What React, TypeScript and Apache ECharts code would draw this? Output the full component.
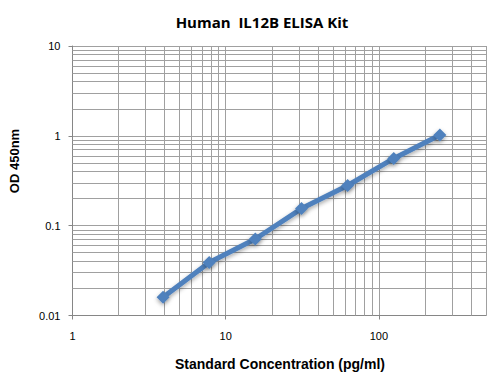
import React, { useEffect, useRef } from "react";
import * as echarts from "echarts";

const concentrations = [3.9, 7.8, 15.6, 31.25, 62.5, 125, 250];
const odValues = [0.016, 0.039, 0.071, 0.155, 0.28, 0.56, 1.02];
const xMinorGrid = [2, 3, 4, 5, 6, 7, 8, 9, 20, 30, 40, 50, 60, 70, 80, 90, 200, 300, 400, 500];
const yMinorGrid = [0.02, 0.03, 0.04, 0.05, 0.06, 0.07, 0.08, 0.09, 0.2, 0.3, 0.4, 0.5, 0.6, 0.7, 0.8, 0.9, 2, 3, 4, 5, 6, 7, 8, 9];

const FONT = "Liberation Sans";
const GRID = "#a0a0a0";

export default function App() {
  const ref = useRef<HTMLDivElement>(null);
  useEffect(() => {
    const chart = echarts.init(ref.current!, null, { renderer: "svg" });
    const pts = concentrations.map((c, i) => [c, odValues[i]]);
    chart.setOption({
      animation: false,
      backgroundColor: "#ffffff",
      title: {
        text: "Human  IL12B ELISA Kit",
        left: 257,
        top: 9,
        textAlign: "center",
        textStyle: { fontFamily: "Open Sans", fontWeight: "bold", fontSize: 15, color: "#000" },
      },
      grid: { left: 72.5, right: 13, top: 46, bottom: 58.5, containLabel: false },
      xAxis: {
        type: "log",
        logBase: 10,
        min: 1,
        max: 500,
        interval: 1,
        axisLine: { show: true, lineStyle: { color: "#868686", width: 1 } },
        axisTick: { show: true, length: 4, inside: false, lineStyle: { color: "#868686" } },
        axisLabel: {
          margin: 15,
          fontFamily: FONT,
          fontSize: 11,
          color: "#000",
          formatter: (v: number) => String(v),
          showMaxLabel: false,
        },
        splitLine: { show: true, lineStyle: { color: GRID, width: 1 } },
      },
      yAxis: {
        type: "log",
        logBase: 10,
        min: 0.01,
        max: 10,
        interval: 1,
        axisLine: { show: true, lineStyle: { color: "#868686", width: 1 } },
        axisTick: { show: true, length: 4, inside: false, lineStyle: { color: "#868686" } },
        axisLabel: {
          margin: 12,
          fontFamily: FONT,
          fontSize: 11,
          color: "#000",
          formatter: (v: number) => String(v),
        },
        splitLine: { show: true, lineStyle: { color: GRID, width: 1 } },
      },
      graphic: [
        {
          type: "text",
          x: 14,
          y: 161,
          rotation: Math.PI / 2,
          style: {
            text: "OD 450nm",
            fontFamily: FONT,
            fontWeight: "bold",
            fontSize: 13,
            fill: "#000",
            align: "center",
            verticalAlign: "middle",
          },
        },
        {
          type: "text",
          x: 280,
          y: 364,
          style: {
            text: "Standard Concentration (pg/ml)",
            fontFamily: FONT,
            fontWeight: "bold",
            fontSize: 14,
            fill: "#000",
            align: "center",
            verticalAlign: "middle",
          },
        },
      ],
      series: [
        {
          type: "scatter",
          data: pts,
          symbolSize: 0,
          silent: true,
          z: 1,
          markLine: {
            silent: true,
            symbol: ["none", "none"],
            label: { show: false },
            lineStyle: { color: GRID, width: 1, type: "solid" },
            data: [
              ...xMinorGrid.map((v) => ({ xAxis: v })),
              ...yMinorGrid.map((v) => ({ yAxis: v })),
            ],
          },
        },
        {
          type: "line",
          data: pts,
          z: 5,
          symbol: "diamond",
          symbolSize: 13,
          showSymbol: true,
          lineStyle: {
            color: "#4F81BD",
            width: 5,
            shadowColor: "rgba(0,0,0,0.35)",
            shadowBlur: 4,
            shadowOffsetY: 2,
          },
          itemStyle: {
            color: "#4F81BD",
            shadowColor: "rgba(0,0,0,0.35)",
            shadowBlur: 4,
            shadowOffsetY: 2,
          },
        },
      ],
    });
    return () => chart.dispose();
  }, []);
  return <div ref={ref} style={{ position: "absolute", left: 0, top: 0, width: 499, height: 374 }} />;
}
